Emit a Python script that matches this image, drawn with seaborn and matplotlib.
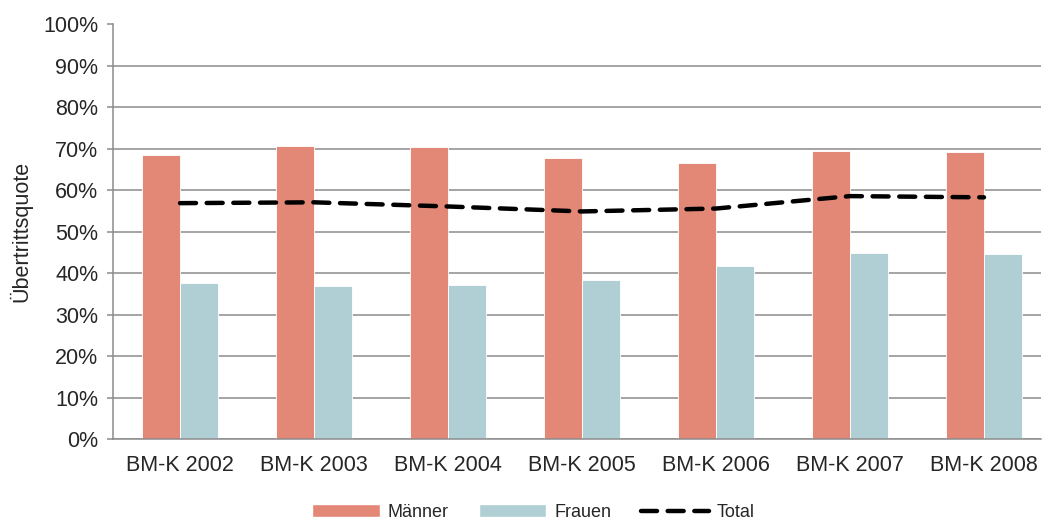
import pandas as pd
import numpy as np

import matplotlib.pyplot as plt
import seaborn as sns
from matplotlib.ticker import PercentFormatter
from matplotlib.patches import Patch
from matplotlib.lines import Line2D

years = ["BM-K 2002", "BM-K 2003", "BM-K 2004", "BM-K 2005",
         "BM-K 2006", "BM-K 2007", "BM-K 2008"]
maenner = [68.4, 70.8, 70.4, 67.7, 66.7, 69.5, 69.2]
frauen = [37.7, 36.9, 37.1, 38.3, 41.7, 44.8, 44.7]
total = [56.9, 57.1, 56.1, 54.9, 55.6, 58.6, 58.3]

df = pd.DataFrame({
    "Jahr": years * 2,
    "Gruppe": ["Männer"] * len(years) + ["Frauen"] * len(years),
    "Quote": maenner + frauen,
})
df_total = pd.DataFrame({"Jahr": years, "Quote": total})

sns.set_style("white")
plt.rcParams["font.family"] = ["Liberation Sans", "DejaVu Sans"]
fs = 15.5

fig = plt.figure(figsize=(10.42, 5.22), dpi=100)
ax = fig.add_axes([113 / 1042, 1 - 439 / 522, 928 / 1042, (439 - 24.5) / 522])

colors = {"Männer": "#e38777", "Frauen": "#afcfd5"}
sns.barplot(data=df, x="Jahr", y="Quote", hue="Gruppe", palette=colors,
            width=0.57, gap=0, saturation=1, ax=ax, legend=False,
            edgecolor="white", linewidth=0.6)

ax.plot(np.arange(len(years)), df_total["Quote"], color="black", lw=3.2,
        linestyle=(0, (3.6, 2.4)), dash_capstyle="round", zorder=5)

ax.set_ylim(0, 100)
ax.set_xlim(-0.5, -0.5 + 928 / 134)
ax.set_yticks(np.arange(0, 101, 10))
ax.yaxis.set_major_formatter(PercentFormatter(decimals=0))
ax.yaxis.grid(True, color="#8c8c8c", lw=1.1)
ax.set_axisbelow(True)
for s in ["top", "right"]:
    ax.spines[s].set_visible(False)
for s in ["left", "bottom"]:
    ax.spines[s].set_color("#8c8c8c")
    ax.spines[s].set_linewidth(1.1)
ax.tick_params(axis="y", which="major", left=True, length=4.5, width=1.1,
               color="#8c8c8c", labelsize=fs, pad=6)
ax.tick_params(axis="x", bottom=False, labelsize=fs, pad=8)
ax.set_xlabel("")
ax.set_ylabel("Übertrittsquote", fontsize=fs, labelpad=8)

# legend below the plot
handles = [
    Patch(facecolor=colors["Männer"], label="Männer"),
    Patch(facecolor=colors["Frauen"], label="Frauen"),
    Line2D([0], [0], color="black", lw=3.2, linestyle=(0, (3.6, 2.4)),
           dash_capstyle="round", label="Total"),
]
fig.legend(handles=handles, loc="center", bbox_to_anchor=(0.512, 0.018),
           ncol=3, frameon=False, fontsize=13, handlelength=3.75,
           handleheight=0.7, columnspacing=1.65, handletextpad=0.45,
           borderpad=0, borderaxespad=0)

fig.savefig("out.png", dpi=100)
